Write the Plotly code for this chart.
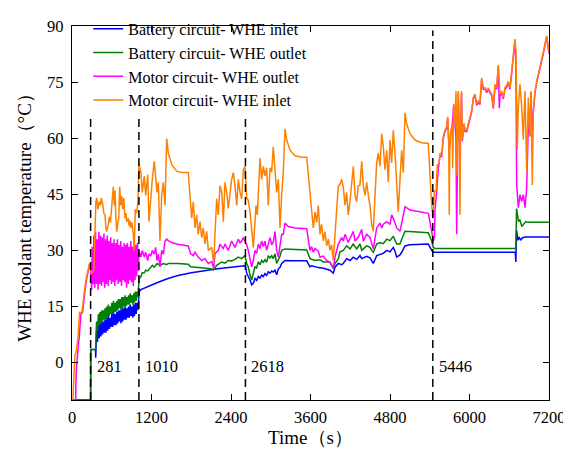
import plotly.graph_objects as go

# ---------------- data (time in s, temperature in °C) ----------------
battery_inlet = [(0,-10),(281,-10),(282,1.3),(284,3.5),(355,3.5),(358,1.3),(366,6),
    (372,8.5),(385,5.5),(398,10),(410,6.5),(423,10.5),(436,7),(448,11),(461,7.5),(474,11),(486,8),
    (499,11.5),(512,8),(524,12),(537,8.5),(550,12.5),(562,9),(575,12),(588,9.5),(600,13),(613,9.5),
    (626,13.5),(638,10),(651,13),(664,10),(676,13.5),(689,10.5),(702,14),(714,11),(727,14),(740,10.5),
    (752,14.5),(765,11),(778,14.5),(790,11.5),(803,15),(816,11.5),(828,14.5),(841,12),(854,15),(866,12),
    (879,15.5),(892,12.5),(904,15),(917,12),(930,15.5),(942,12.5),(955,16),(968,13),(980,16),(993,14),
    (1005,16.5),(1015,19),(1040,19.5),(1100,20),(1200,20.8),(1300,21.5),(1450,22.5),(1600,23.3),
    (1800,24),(2000,24.6),(2200,25.1),(2400,25.5),(2600,25.9),(2620,25.6),
    (2637,23.9),(2687,22.1),(2712,20.8),(2737,21.2),(2762,22.5),(2787,22),(2812,23),(2838,22.6),
    (2863,23.4),(2888,23),(2913,23.8),(2938,23.3),(2963,24.3),(2989,23.9),(3014,24.5),(3038,24.2),
    (3064,24.7),(3089,23.5),(3114,25),(3140,25.5),(3165,26.5),(3215,27.3),(3300,27.2),(3543,27.2),
    (3592,25.6),(3618,25.9),(3668,25.6),(3718,25.4),(3793,25.2),(3844,25),(3894,24.7),(3944,23.9),
    (3970,25.5),(4020,26.5),(4071,26.2),(4095,26.5),(4146,27.8),(4196,27.3),(4246,28.2),(4297,27.6),
    (4347,28.6),(4373,27.8),(4448,28.4),(4498,28),(4524,27.3),(4548,26.5),(4599,28.6),(4649,28.8),
    (4699,29.2),(4750,30),(4800,29.6),(4850,30.8),(4875,29.8),(4901,28.2),(4951,28.8),(4976,29.5),
    (5026,31.2),(5100,31.5),(5378,31.7),(5429,30),(5454,29.5),(6690,29.5),(6700,26.9),(6710,35.4),
    (6730,32.7),(6750,33.6),(6770,32.7),(6800,33.4),(6840,33.6),(7200,33.6)]

battery_outlet = [(0,-10),(281,-10),(282,3.5),(357,3.5),(366,9),
    (372,11),(385,8.5),(398,13),(410,10),(423,13.5),(436,10.5),(448,14),(461,11),(474,14),(486,11.5),
    (499,14.5),(512,11.5),(524,15),(537,12),(550,15.5),(562,12.5),(575,15),(588,13),(600,16),(613,13),
    (626,16.5),(638,13.5),(651,16),(664,13.5),(676,16.5),(689,14),(702,17),(714,14.5),(727,17),(740,14),
    (752,17.5),(765,14.5),(778,17.5),(790,15),(803,18),(816,15),(828,17.5),(841,15.5),(854,18),(866,15.5),
    (879,18.5),(892,16),(904,18),(917,15.5),(930,18.5),(942,16),(955,19),(968,16.5),(980,19),(993,17.5),
    (1005,19.5),(1015,22.5),(1041,23),(1061,24),(1091,24),(1112,24.7),(1143,24.5),(1188,25.5),(1212,26),
    (1242,25.5),(1283,26.5),(1328,26),(1378,26.5),(1429,26.2),(1454,26.5),(1600,26.5),(1755,26.3),
    (1790,25.6),(1900,25.4),(2000,25.2),(2100,25.1),(2139,24.8),(2184,26),(2260,26.9),(2309,26.6),
    (2359,27.3),(2410,27.2),(2460,27.6),(2510,28.2),(2561,27.8),(2611,28.6),
    (2637,26.5),(2661,25.6),(2687,23.4),(2712,22.1),(2737,23.9),(2762,25.6),(2787,25.3),(2812,26.9),
    (2838,26.2),(2863,27.3),(2888,26.8),(2913,27.5),(2938,26.8),(2963,28.6),(2989,28),(3014,28.6),
    (3038,27.8),(3064,29.1),(3089,26.5),(3114,27.5),(3140,28.5),(3165,30),(3215,30.4),(3300,30.3),
    (3543,30.1),(3592,27.8),(3643,27.6),(3668,27.3),(3743,27.5),(3793,26.9),(3894,26.9),(3944,25.2),
    (3970,26.5),(4020,27.8),(4045,29.6),(4095,30),(4146,31.2),(4196,30.4),(4246,31.7),(4297,30.4),
    (4347,31.7),(4373,30),(4448,31.2),(4498,30.8),(4524,30),(4548,29.5),(4599,31.7),(4649,32.1),
    (4699,31.8),(4750,33),(4800,32.6),(4850,33.8),(4901,31.7),(4951,31.7),(4976,33),(5026,35.1),
    (5152,35),(5378,34.7),(5429,32.5),(5454,30.8),(5480,30.5),(6690,30.5),(6700,31),(6710,41.2),
    (6740,37.7),(6760,38.2),(6790,36.4),(6820,37.2),(6850,37.7),(6880,37.5),(7200,37.5)]

motor_outlet = [(0,-10),(55,-10),(62,-3),(75,1),(90,3.5),(110,7),(122,11),(135,13),(160,13.4),
    (178,17),(198,19.5),(222,22.5),(248,25),(268,26.3),(281,25),(290,22),(297,19.5),
    (305,31),(318,21),(330,34),(343,20),(356,35),(368,21),(381,33),(394,19.5),(406,35),(419,21),
    (432,34),(444,20.5),(457,33.5),(470,21.5),(482,34.5),(495,20),(508,33),(520,21),(533,34),(546,20.5),
    (558,32.5),(571,22),(584,33.5),(596,21),(609,32),(622,21.5),(634,33),(647,20.5),(660,32),(672,22),
    (685,33),(698,21),(710,31.5),(723,21.5),(736,32.5),(748,20.5),(761,31),(774,22),(786,32),(799,21.5),
    (812,31.5),(824,20),(837,32),(850,21),(862,31),(875,22),(888,32.5),(900,21.5),(913,31),(926,20.5),
    (938,32),(951,22),(964,31.5),(976,23),(989,32),(1002,24.5),
    (1011,30),(1041,28.2),(1061,30),(1091,28.2),(1112,29.5),(1143,27.3),(1162,29.1),(1188,28.5),
    (1212,30),(1242,29),(1263,30.8),(1283,27.3),(1303,29),(1328,25.6),(1354,30),(1378,29),(1404,32.5),
    (1429,33),(1454,32.6),(1505,32.1),(1580,31.7),(1755,31.2),(1790,29.1),(1831,28.6),(1857,29.5),
    (1906,28.2),(1958,27.3),(2007,27.8),(2057,26.5),(2109,27),(2139,25.2),(2158,29.1),(2208,30),
    (2234,31.7),(2260,31),(2284,30.5),(2309,31.7),(2359,30),(2410,32.5),(2460,30.8),(2510,33),
    (2536,32),(2561,32.5),(2586,33.4),(2611,32.5),(2637,31.5),(2661,30),(2687,27.3),(2712,25.6),
    (2737,27.3),(2762,30),(2787,29.2),(2812,31.7),(2838,30.5),(2863,32.5),(2888,31),(2913,32.5),
    (2938,30),(2963,31.5),(2989,33.4),(3014,31.5),(3038,32.2),(3064,35.1),(3089,30),(3114,28.2),
    (3140,31.5),(3165,34.3),(3189,34.3),(3215,37.3),(3265,36.4),(3366,36),(3543,35.8),(3592,30),
    (3618,31),(3642,29.5),(3668,30.5),(3718,29.8),(3743,28.2),(3793,28.5),(3844,27.3),(3894,26.8),
    (3944,25.2),(3970,28.2),(4020,31.7),(4071,33.4),(4095,32.5),(4121,34.3),(4170,32.1),(4222,34.3),
    (4246,35.1),(4272,32.5),(4321,33.5),(4373,35.6),(4397,32.5),(4448,34.3),(4498,33.5),(4548,30.4),
    (4599,36),(4649,37.3),(4675,36),(4699,37),(4750,37.7),(4800,37),(4825,39.5),(4850,38.5),(4875,37),
    (4901,36),(4951,35.1),(4976,37.7),(5026,41.7),(5102,40.8),(5253,40.3),(5378,39.9),(5429,35.1),
    (5454,32.5),(5470,33.6),(5480,41),(5505,45.7),(5529,52),(5555,55.5),(5580,55),(5605,60),
    (5630,61.8),(5656,62.8),(5671,65.3),(5685,59.5),(5703,57.5),(5716,61),(5740,63.5),(5761,68.8),
    (5781,63.5),(5796,60),(5806,34.3),(5816,50),(5831,72),(5846,59.5),(5866,61.5),(5880,72),
    (5891,59.2),(5917,63.6),(5932,61.8),(5958,61.8),(5982,63.6),(6007,65.3),(6033,67),(6057,70.5),
    (6083,71.4),(6108,68.8),(6133,69.6),(6158,69),(6183,75.7),(6208,73.1),(6234,73.1),(6259,72.2),
    (6284,73.1),(6309,72.1),(6335,71.4),(6359,67.9),(6385,74),(6410,73.1),(6435,79.2),(6450,68),
    (6460,71.4),(6486,72.1),(6510,70.5),(6536,73.1),(6561,73.6),(6586,74.8),(6611,73.1),(6637,77.4),
    (6661,80.9),(6687,86.1),(6700,80),(6712,47.5),(6737,41.4),(6762,44.9),(6788,43.1),(6812,44.9),
    (6838,41.4),(6863,46.6),(6888,64),(6913,60.5),(6928,72.2),(6948,60),(6963,67),(6989,72.2),
    (7014,74.8),(7064,79.2),(7114,82.6),(7165,87),(7200,82.6)]

motor_inlet = [(0,-10),(15,-10),(30,-3),(45,2),(65,3),(90,6.5),(105,11),(115,13.4),(150,13.4),
    (170,17),(190,19.5),(215,22.5),(240,25),(265,26.5),(281,25),(297,24),(330,24.5),(347,38),
    (360,43),(373,44),(390,41),(410,43),(430,42),(443,44),(463,42.5),(480,40),(498,39.5),(512,36),
    (524,35),(548,37),(563,39),(580,37.5),(599,41),(612,44),(623,47),(638,42),(650,46),(660,39.5),
    (675,35),(690,37),(705,38.6),(720,47),(735,42),(750,44.5),(765,41),(780,44),(800,38.6),(815,40),
    (826,37.7),(850,38.6),(862,36.5),(875,38),(890,36),(905,37.5),(925,34.3),(940,30),(955,41),
    (977,40),(995,43),(1011,53),
    (1041,50.8),(1061,45.5),(1091,49.9),(1112,44.7),(1143,50.3),(1162,37.7),(1188,44.7),(1212,49),
    (1242,53.8),(1263,49.9),(1283,45.5),(1303,48.2),(1328,32.5),(1354,44.7),(1378,48.2),(1404,42),
    (1429,59.9),(1454,56),(1505,52.9),(1580,51.2),(1656,50.8),(1755,50.8),(1807,38.6),(1831,43),
    (1857,36),(1882,39.5),(1906,34.3),(1932,37.7),(1958,33.4),(1982,36),(2007,31.7),(2033,35.1),
    (2057,30),(2109,30.8),(2139,26.5),(2158,34.3),(2184,43.8),(2208,39.5),(2234,47.3),(2260,45.5),
    (2284,37.7),(2309,48.2),(2335,45.5),(2359,41.2),(2385,44.7),(2410,49),(2435,50.8),(2460,47.3),
    (2486,42),(2510,49),(2536,45.5),(2561,43.8),(2586,51.6),(2611,52.5),
    (2637,44),(2661,43.4),(2687,40.3),(2712,34.3),(2737,30.8),(2762,37.7),(2777,42),(2797,39.5),
    (2822,49),(2838,54.7),(2863,49),(2888,52.5),(2913,49.9),(2938,52.1),(2963,42),(2989,52.1),
    (3014,51),(3038,57.7),(3064,51.6),(3089,45.5),(3114,49),(3140,36),(3165,45),(3189,50.8),
    (3215,62.5),(3241,59.5),(3291,56.8),(3366,55.3),(3467,54.9),(3543,54.9),(3592,45.5),(3618,39.5),
    (3642,36),(3668,40.3),(3693,37.5),(3718,42),(3743,34.3),(3768,37),(3793,32.5),(3818,35),
    (3844,31.2),(3869,33),(3894,30),(3919,31.5),(3944,27.3),(3970,34.3),(3995,42),(4020,47.3),
    (4045,47.7),(4071,49),(4095,46.9),(4121,42),(4146,45.5),(4170,39.5),(4196,43),(4222,49),
    (4246,52.5),(4272,44.7),(4297,43),(4321,47.3),(4347,47.5),(4373,53.8),(4397,47.3),(4423,44.7),
    (4448,48.2),(4473,44.7),(4498,42),(4524,36.9),(4548,35.1),(4574,44.7),(4599,53.4),(4623,56),
    (4649,52.5),(4675,61.2),(4699,57.7),(4724,51.6),(4750,56.8),(4774,48.2),(4800,59.5),(4825,53.4),
    (4850,62.1),(4875,56),(4901,49),(4925,40.3),(4951,49),(4976,56.8),(5001,50.8),(5026,66.8),
    (5052,63.8),(5102,61.2),(5177,59.5),(5278,58.8),(5378,58.6),(5404,49),(5429,42),(5450,38.6),
    (5470,46),(5494,45.7),(5515,53),(5540,52.7),(5555,56.1),(5580,55.3),(5605,60.5),(5630,62.2),
    (5656,63.1),(5671,65.7),(5685,60),(5695,39.5),(5703,58),(5716,61.4),(5740,64),(5746,52),
    (5761,69.2),(5781,64),(5796,72.6),(5811,50),(5821,70),(5831,72.6),(5846,60),(5856,39.5),
    (5866,62),(5880,72.6),(5891,59.6),(5917,64),(5932,62.2),(5958,62.2),(5982,64),(6007,65.7),
    (6033,67.4),(6057,70.9),(6083,71.8),(6108,69.2),(6133,70),(6158,69.5),(6183,76.1),(6208,73.5),
    (6234,73.5),(6259,72.6),(6284,73.5),(6309,72.5),(6335,71.8),(6359,68.3),(6385,74.4),(6410,73.5),
    (6435,79.6),(6460,71.8),(6486,72.5),(6510,70.9),(6536,73.5),(6561,74),(6586,75.2),(6611,73.5),
    (6637,77.8),(6661,81.3),(6687,86.5),(6702,83),(6721,57),(6737,68.3),(6762,74.4),(6788,68.3),
    (6812,59.6),(6838,72.6),(6863,50.9),(6888,70.9),(6913,60.5),(6928,72.6),(6948,47.5),(6963,67.4),
    (6989,72.6),(7014,75.2),(7064,79.6),(7114,83),(7165,87.4),(7200,83)]

series_names = ["Battery circuit- WHE inlet", "Battery circuit- WHE outlet",
                "Motor circuit- WHE outlet", "Motor circuit- WHE inlet"]
series_colors = ["#0000FF", "#008000", "#FF00FF", "#FF8000"]

event_times = [281, 1010, 2618, 5446]
event_tops = [65.8, 65.8, 65.8, 88.8]
event_labels = ["281", "1010", "2618", "5446"]

x_ticks = [0, 1200, 2400, 3600, 4800, 6000, 7200]
y_ticks = [0, 15, 30, 45, 60, 75, 90]

FONT = "Liberation Serif, Times New Roman, serif"

fig = go.Figure()
for name, color, pts in zip(series_names, series_colors,
                            [battery_inlet, battery_outlet, motor_outlet, motor_inlet]):
    fig.add_trace(go.Scatter(x=[p[0] for p in pts], y=[p[1] for p in pts], mode="lines",
                             name=name, line=dict(color=color, width=1.5)))

for t, top, lab in zip(event_times, event_tops, event_labels):
    fig.add_shape(type="line", xref="x", yref="y", x0=t, x1=t, y0=-10, y1=top,
                  line=dict(color="black", width=1.5, dash="8px,5px"), layer="above")
    fig.add_annotation(x=t, y=-1, xref="x", yref="y", text=lab, showarrow=False,
                       xanchor="left", yanchor="middle", xshift=4,
                       font=dict(family=FONT, size=16.5, color="black"))

axis_common = dict(showline=True, linecolor="black", linewidth=1.3, mirror="ticks",
                   ticks="inside", ticklen=6, tickwidth=1.3, tickcolor="black",
                   showgrid=False, zeroline=False, ticklabeloverflow="allow",
                   automargin=False,
                   tickfont=dict(family=FONT, size=16.5, color="black"))

fig.update_xaxes(range=[0, 7200], tickvals=x_ticks, ticktext=[str(v) for v in x_ticks],
                 ticklabelstandoff=2,
                 title=dict(text="Time（s）", font=dict(family=FONT, size=19, color="black"), standoff=4),
                 **axis_common)
fig.update_yaxes(range=[-10, 90], tickvals=y_ticks, ticktext=[str(v) for v in y_ticks],
                 ticklabelstandoff=4,
                 title=dict(text="WHE coolant temperature（°C）", font=dict(family=FONT, size=19, color="black"), standoff=10),
                 **axis_common)

fig.update_layout(
    width=563, height=453,
    margin=dict(l=72, r=14, t=16, b=53),
    paper_bgcolor="white", plot_bgcolor="white",
    font=dict(family=FONT, color="black"),
    legend=dict(x=0.034, y=1.038, xanchor="left", yanchor="top", bgcolor="rgba(0,0,0,0)",
                font=dict(family=FONT, size=16, color="black"), tracegroupgap=0),
    showlegend=True,
)

fig.write_html("out.html")
